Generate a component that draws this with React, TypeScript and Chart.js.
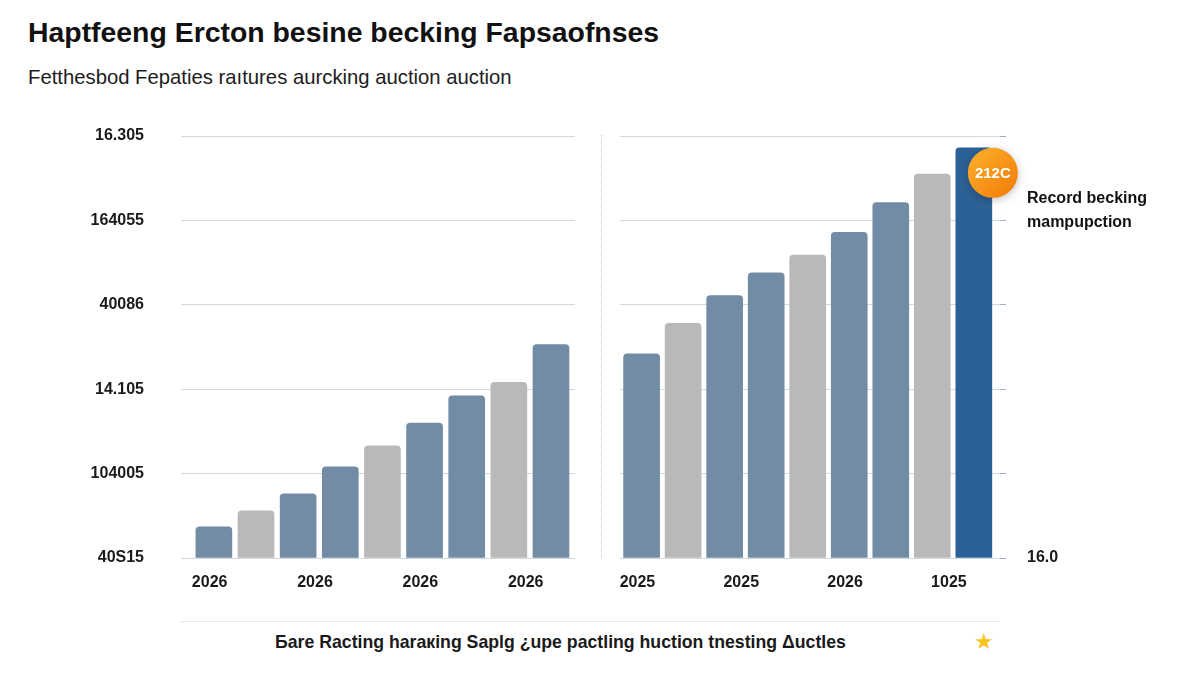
import { useEffect, useRef } from 'react'
import { Chart, registerables } from 'chart.js'
import type { Plugin } from 'chart.js'
Chart.register(...registerables)

// bar heights, in gridline units (0 = baseline, 5 = top line)
const leftValues = [0.37, 0.56, 0.76, 1.08, 1.33, 1.6, 1.92, 2.08, 2.53]
const rightValues = [2.42, 2.78, 3.11, 3.38, 3.59, 3.86, 4.21, 4.55, 4.86]
const leftTones = ['blue', 'gray', 'blue', 'blue', 'gray', 'blue', 'blue', 'gray', 'blue']
const rightTones = ['blue', 'gray', 'blue', 'blue', 'gray', 'blue', 'blue', 'gray', 'dark']
const leftYLabels = ['40S15', '104005', '14.105', '40086', '164055', '16.305']
const rightYLabels = ['16.0', '', '', '', '', '']
const leftXLabels = ['2026', '2026', '2026', '2026']
const rightXLabels = ['2025', '2025', '2026', '1025']
const xLabelSlots = [-0.1, 2.4, 4.9, 7.4]
const badgeText = '212C'

const FONT = '"Liberation Sans", Arial, sans-serif'
const tone: Record<string, string> = { blue: '#728ca6', gray: '#b9b9b9', dark: '#2b6196' }

const badge: Plugin<'bar'> = {
  id: 'badge',
  afterDatasetsDraw(chart) {
    const meta = chart.getDatasetMeta(0)
    const bar = meta.data[meta.data.length - 1] as any
    if (!bar) return
    const { ctx } = chart
    const x = bar.x + 19, y = bar.y + 25, r = 25
    ctx.save()
    ctx.shadowColor = 'rgba(0,0,0,.25)'
    ctx.shadowBlur = 8
    ctx.shadowOffsetY = 2
    const g = ctx.createLinearGradient(x - r, y - r, x + r, y + r)
    g.addColorStop(0, '#fbb22c')
    g.addColorStop(1, '#f27a08')
    ctx.fillStyle = g
    ctx.beginPath()
    ctx.arc(x, y, r, 0, Math.PI * 2)
    ctx.fill()
    ctx.shadowColor = 'transparent'
    ctx.fillStyle = '#fff'
    ctx.font = `bold 15px ${FONT}`
    ctx.textAlign = 'center'
    ctx.textBaseline = 'middle'
    ctx.fillText(badgeText, x, y + 1)
    ctx.restore()
  },
}

interface PanelProps {
  values: number[]; tones: string[]; xLabels: string[]; yLabels: string[]
  side: 'left' | 'right'; xMin: number; xMax: number
  box: { left: number; top: number; width: number; height: number }
}

function BarPanel({ values, tones, xLabels, yLabels, side, xMin, xMax, box }: PanelProps) {
  const ref = useRef<HTMLCanvasElement>(null)

  useEffect(() => {
    if (!ref.current) return
    const isLeft = side === 'left'
    const chart = new Chart(ref.current, {
      type: 'bar',
      data: {
        datasets: [{
          data: values.map((v, i) => ({ x: i, y: v })) as any,
          backgroundColor: tones.map(t => tone[t]),
          barThickness: 36,
          borderRadius: 4,
        }],
      },
      options: {
        responsive: true, maintainAspectRatio: false, animation: false,
        layout: { padding: isLeft ? { top: 36, right: 15, left: 0, bottom: 0 } : { top: 36, left: 30, right: 0, bottom: 0 } },
        plugins: { legend: { display: false }, tooltip: { enabled: false } },
        scales: {
          x: {
            type: 'linear', min: xMin, max: xMax, offset: false,
            grid: { display: false, drawTicks: false, offset: false }, border: { display: false },
            afterBuildTicks: (s: any) => { s.ticks = xLabelSlots.map(v => ({ value: v })) },
            afterFit: (s: any) => { s.height = 52 },
            ticks: {
              autoSkip: false, maxRotation: 0, padding: 15, color: '#1a1a1a',
              font: { family: FONT, size: 16, weight: 'bold' },
              callback: (_v: any, i: number) => xLabels[i],
            },
          },
          y: {
            position: side, min: 0, max: 5,
            grid: { color: '#cfd9e2', lineWidth: 1, drawTicks: !isLeft, tickLength: 6, tickColor: '#9dafc0' },
            border: { display: false },
            afterFit: (s: any) => { s.width = isLeft ? 181 : 200; s.paddingTop = 0; s.paddingBottom = 0 },
            ticks: {
              stepSize: 1, padding: isLeft ? 37 : 21, color: '#1a1a1a',
              font: { family: FONT, size: 16, weight: 'bold' },
              callback: (v: any) => yLabels[Math.round(Number(v))],
            },
          },
        },
      },
      plugins: isLeft ? [] : [badge],
    })
    return () => chart.destroy()
  }, [])

  return (
    <div style={{ position: 'absolute', ...box }}>
      <canvas ref={ref} />
    </div>
  )
}

export default function App() {
  return (
    <div style={{ position: 'absolute', left: 0, top: 0, width: 1200, height: 675, background: '#fff', fontFamily: FONT, color: '#111', overflow: 'hidden' }}>
      <div style={{ position: 'absolute', left: 28, top: 16, fontSize: 28.4, fontWeight: 700, whiteSpace: 'nowrap' }}>
        Haptfeeng Ercton besine becking Fapsaofnses
      </div>
      <div style={{ position: 'absolute', left: 28, top: 66, fontSize: 20.3, whiteSpace: 'nowrap', color: '#1c1c1c' }}>
        Fetthesbod Fepaties raıtures aurcking auction auction
      </div>

      <BarPanel values={leftValues} tones={leftTones} xLabels={leftXLabels} yLabels={leftYLabels}
        side="left" xMin={-0.78} xMax={8.57} box={{ left: 0, top: 100, width: 590, height: 510 }} />
      <BarPanel values={rightValues} tones={rightTones} xLabels={rightXLabels} yLabels={rightYLabels}
        side="right" xMin={-0.52} xMax={8.63} box={{ left: 590, top: 100, width: 610, height: 510 }} />

      <div style={{ position: 'absolute', left: 601, top: 135, height: 423, borderLeft: '1px dotted #bfc7cf' }} />

      <div style={{ position: 'absolute', left: 1027, top: 186, fontSize: 16, fontWeight: 700, lineHeight: '24px', whiteSpace: 'nowrap' }}>
        Record becking<br />mampupction
      </div>

      <div style={{ position: 'absolute', left: 180, top: 621, width: 820, borderTop: '1.5px solid #e4e6ea' }} />
      <div style={{ position: 'absolute', left: 275, top: 632, fontSize: 17.7, fontWeight: 700, whiteSpace: 'nowrap', color: '#1a1a1a' }}>
        Бare Racting haraкing Saplg ¿upe pactling huction tnesting Δuctles
      </div>
      <div style={{ position: 'absolute', left: 974, top: 629, fontSize: 22, color: '#f8c51f', fontFamily: '"DejaVu Sans", sans-serif' }}>★</div>
    </div>
  )
}
